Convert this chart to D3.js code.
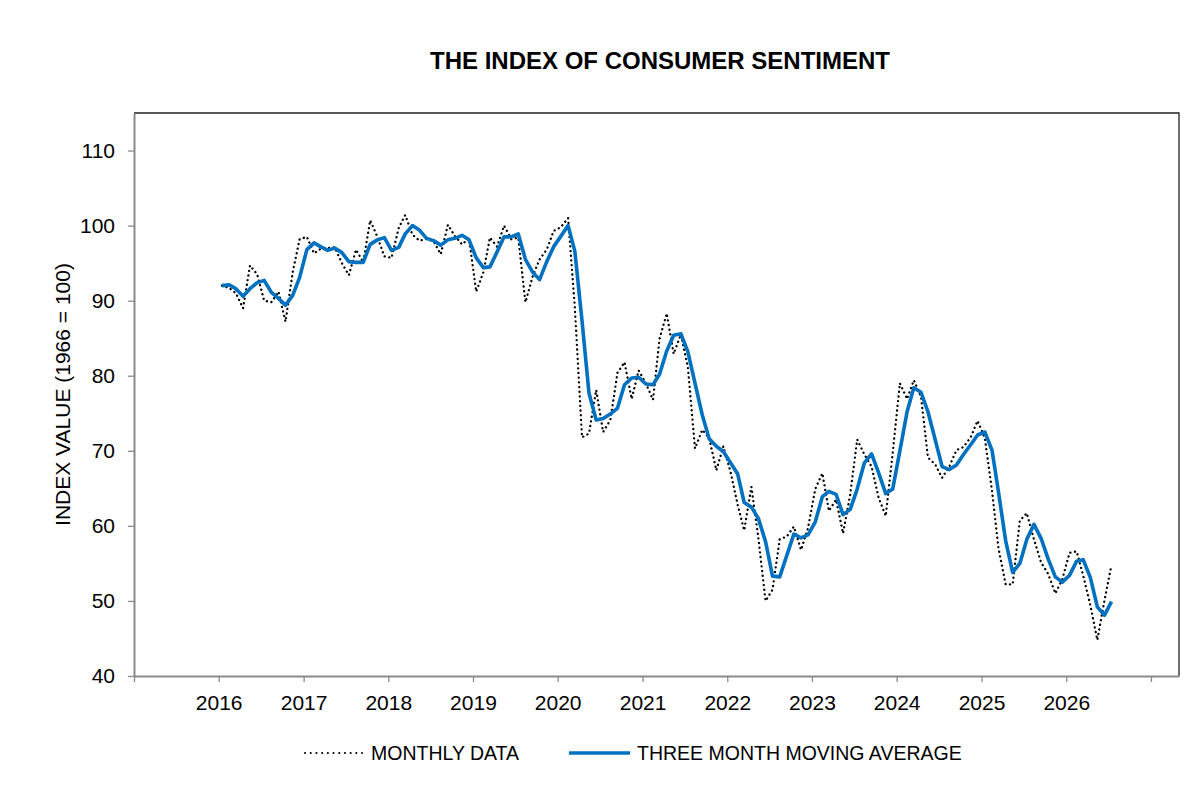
<!DOCTYPE html>
<html>
<head>
<meta charset="utf-8">
<script src="https://cdn.jsdelivr.net/npm/d3@7"></script>
<style>
  body { margin: 0; background: #fff; }
  svg { font-family: "Liberation Sans", Arial, sans-serif; }
</style>
</head>
<body>
<script>
// monthly index values, Jan 2016 .. Jul 2026
const monthly = [
  92.0, 91.7, 91.0, 89.0, 94.7, 93.5, 90.0, 89.8, 91.2, 87.2, 93.8, 98.2,
  98.5, 96.3, 96.9, 97.0, 97.1, 95.0, 93.4, 96.8, 95.1, 100.7, 98.5, 95.9,
  95.7, 99.7, 101.4, 98.8, 98.0, 98.2, 97.9, 96.2, 100.1, 98.6, 97.5, 98.3,
  91.2, 93.8, 98.4, 97.2, 100.0, 98.2, 98.4, 89.8, 93.2, 95.5, 96.8, 99.3,
  99.8, 101.0, 89.1, 71.8, 72.3, 78.1, 72.5, 74.1, 80.4, 81.8, 76.9, 80.7,
  79.0, 76.8, 84.9, 88.3, 82.9, 85.5, 81.2, 70.3, 72.8, 71.7, 67.4, 70.6,
  67.2, 62.8, 59.4, 65.2, 58.4, 50.0, 51.5, 58.2, 58.6, 59.9, 56.8, 59.7,
  64.9, 67.0, 62.0, 63.5, 59.0, 64.2, 71.5, 69.5, 67.9, 63.8, 61.3, 69.7,
  79.0, 76.9, 79.4, 77.2, 69.1, 68.2, 66.4, 67.9, 70.1, 70.5, 71.8, 74.0,
  71.7, 64.7, 57.0, 52.2, 52.2, 60.7, 61.7, 58.2, 55.1, 53.6, 51.0, 52.9,
  56.4, 56.6, 53.4, 49.4, 44.8, 50.1, 54.8
]

// three month moving average, same months
const movingAvg = [
  92.0, 92.1, 91.6, 90.6, 91.6, 92.4, 92.7, 91.1, 90.3, 89.4, 90.7, 93.1,
  96.8, 97.7, 97.2, 96.7, 97.0, 96.4, 95.2, 95.1, 95.1, 97.5, 98.1, 98.4,
  96.7, 97.1, 98.9, 100.0, 99.4, 98.3, 98.0, 97.4, 98.1, 98.3, 98.7, 98.1,
  95.7, 94.4, 94.5, 96.5, 98.5, 98.5, 98.9, 95.5, 93.8, 92.8, 95.2, 97.2,
  98.6, 100.0, 96.6, 87.3, 77.7, 74.1, 74.3, 74.9, 75.7, 78.8, 79.7, 79.8,
  78.9, 78.8, 80.2, 83.3, 85.4, 85.6, 83.2, 79.0, 74.8, 71.6, 70.6, 69.9,
  68.4, 66.9, 63.1, 62.5, 61.0, 57.9, 53.3, 53.2, 56.1, 58.9, 58.4, 58.8,
  60.5, 63.9, 64.6, 64.2, 61.5, 62.2, 64.9, 68.4, 69.6, 67.1, 64.3, 64.9,
  70.0, 75.2, 78.4, 77.8, 75.2, 71.5, 67.9, 67.5, 68.1, 69.5, 70.8, 72.1,
  72.5, 70.1, 64.5, 58.0, 53.8, 55.0, 58.2, 60.2, 58.3, 55.6, 53.2, 52.5,
  53.4, 55.3, 55.5, 53.1, 49.2, 48.1, 49.9
]

const yearTicks = [2015, 2016, 2017, 2018, 2019, 2020, 2021, 2022, 2023, 2024, 2025, 2026, 2027]
const yearLabels = [2016, 2017, 2018, 2019, 2020, 2021, 2022, 2023, 2024, 2025, 2026]
const valueTicks = [40, 50, 60, 70, 80, 90, 100, 110]

const width = 1190, height = 794
const plotLeft = 134, plotRight = 1179, plotTop = 113, plotBottom = 676

// each month sits in the middle of its month
const dates = monthly.map((v, i) => new Date(2016, i, 15))

const svg = d3.select("body").append("svg")
  .attr("width", width)
  .attr("height", height)

const x = d3.scaleTime()
  .domain([new Date(2015, 0, 1), new Date(2027, 4, 2)])
  .range([plotLeft, plotRight])

const y = d3.scaleLinear()
  .domain([40, 115])
  .range([plotBottom, plotTop])

// plot frame (top and right)
svg.append("path")
  .attr("d", `M${plotLeft},${plotTop}H${plotRight}V${plotBottom}`)
  .attr("fill", "none")
  .attr("stroke", "#222")
  .attr("stroke-width", 1.3)

// y axis
const yAxis = svg.append("g")
  .attr("transform", `translate(${plotLeft},0)`)
  .call(d3.axisLeft(y).tickValues(valueTicks).tickSize(6).tickPadding(13).tickSizeOuter(0))
yAxis.select(".domain").attr("stroke", "#8a8a8a").attr("stroke-width", 2)
yAxis.selectAll(".tick line").attr("stroke", "#8a8a8a").attr("stroke-width", 1.3)
yAxis.selectAll("text").attr("font-size", 21).attr("fill", "#000")
  .attr("font-family", "Liberation Sans, Arial, sans-serif")

// x axis
const xAxis = svg.append("g")
  .attr("transform", `translate(0,${plotBottom})`)
  .call(d3.axisBottom(x)
    .tickValues(yearTicks.map(d => new Date(d, 0, 1)))
    .tickSize(6).tickPadding(13).tickSizeOuter(0)
    .tickFormat(d => yearLabels.includes(d.getFullYear()) ? d.getFullYear() : ""))
xAxis.select(".domain").attr("stroke", "#8a8a8a").attr("stroke-width", 2)
xAxis.selectAll(".tick line").attr("stroke", "#8a8a8a").attr("stroke-width", 1.3)
xAxis.selectAll("text").attr("font-size", 21).attr("fill", "#000")
  .attr("font-family", "Liberation Sans, Arial, sans-serif")

// lines
const line = d3.line()
  .x((d, i) => x(dates[i]))
  .y(d => y(d))

svg.append("path")
  .datum(monthly)
  .attr("d", line)
  .attr("fill", "none")
  .attr("stroke", "#000")
  .attr("stroke-width", 2.3)
  .attr("stroke-linecap", "round")
  .attr("stroke-dasharray", "0.1 4.6")

svg.append("path")
  .datum(movingAvg)
  .attr("d", line)
  .attr("fill", "none")
  .attr("stroke", "#0070c0")
  .attr("stroke-width", 3.6)
  .attr("stroke-linejoin", "round")

// title
svg.append("text")
  .attr("x", 660)
  .attr("y", 69)
  .attr("text-anchor", "middle")
  .attr("font-size", 24)
  .attr("font-weight", "bold")
  .text("THE INDEX OF CONSUMER SENTIMENT")

// y axis title
svg.append("text")
  .attr("transform", `translate(70,${(plotTop + plotBottom) / 2}) rotate(-90)`)
  .attr("text-anchor", "middle")
  .attr("font-size", 21)
  .text("INDEX VALUE (1966 = 100)")

// legend
const legendY = 753
svg.append("line")
  .attr("x1", 305).attr("x2", 362)
  .attr("y1", legendY).attr("y2", legendY)
  .attr("stroke", "#000")
  .attr("stroke-width", 2)
  .attr("stroke-linecap", "round")
  .attr("stroke-dasharray", "0.1 5.6")
svg.append("text")
  .attr("x", 371).attr("y", legendY + 7)
  .attr("font-size", 19.5)
  .text("MONTHLY DATA")

svg.append("line")
  .attr("x1", 569).attr("x2", 630)
  .attr("y1", legendY).attr("y2", legendY)
  .attr("stroke", "#0070c0")
  .attr("stroke-width", 3.6)
svg.append("text")
  .attr("x", 637).attr("y", legendY + 7)
  .attr("font-size", 19.5)
  .text("THREE MONTH MOVING AVERAGE")
</script>
</body>
</html>
